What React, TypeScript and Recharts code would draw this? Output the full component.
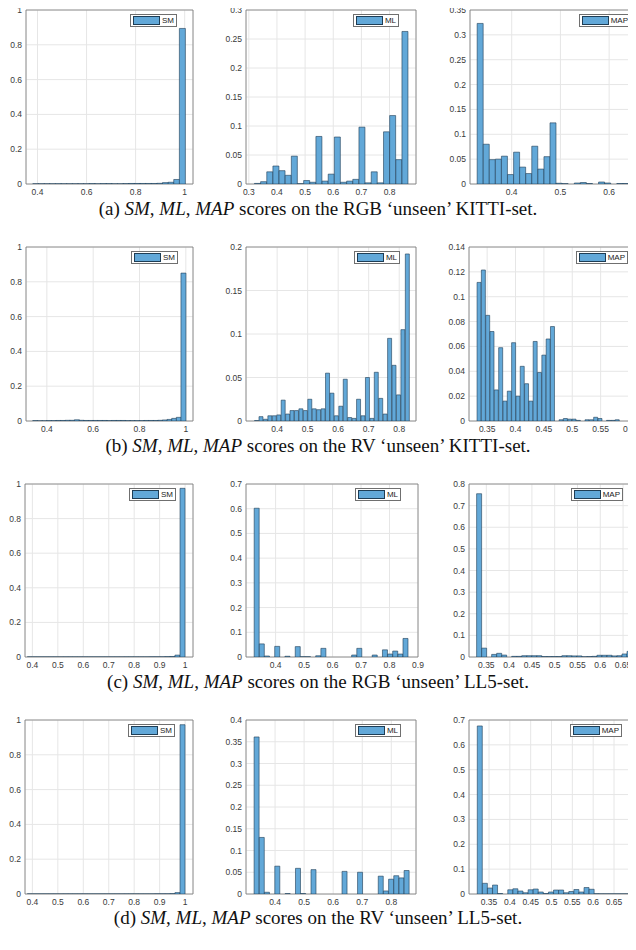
import {
  Bar,
  BarChart,
  CartesianGrid,
  Legend,
  ReferenceArea,
  XAxis,
  YAxis,
} from "recharts";

// bin centres (x) and normalised counts (y)

// (a) RGB, KITTI
const a1X = [0.392, 0.415, 0.438, 0.461, 0.484, 0.507, 0.53, 0.553, 0.576, 0.599, 0.622, 0.645, 0.668, 0.691, 0.714, 0.737, 0.76, 0.783, 0.806, 0.829, 0.852, 0.875, 0.898, 0.921, 0.944, 0.967, 0.99];
const a1Y = [0.001, 0.001, 0.001, 0.001, 0.001, 0.001, 0.001, 0.001, 0.001, 0.001, 0.002, 0.001, 0.002, 0.002, 0.001, 0.001, 0.002, 0.003, 0.003, 0.003, 0.003, 0.003, 0.004, 0.008, 0.01, 0.026, 0.894];
const a2X = [0.331, 0.3528, 0.3747, 0.3965, 0.4183, 0.4402, 0.462, 0.4838, 0.5057, 0.5275, 0.5493, 0.5712, 0.593, 0.6148, 0.6367, 0.6585, 0.6803, 0.7022, 0.724, 0.7458, 0.7677, 0.7895, 0.8113, 0.8332, 0.855];
const a2Y = [0.001, 0.004, 0.021, 0.031, 0.023, 0.015, 0.048, 0.0005, 0.006, 0.003, 0.082, 0.005, 0.017, 0.081, 0.003, 0.005, 0.008, 0.098, 0.002, 0.021, 0.002, 0.09, 0.118, 0.042, 0.263];
const a3X = [0.3353, 0.3478, 0.3602, 0.3727, 0.3851, 0.3976, 0.4101, 0.4225, 0.435, 0.4474, 0.4599, 0.4724, 0.4848, 0.4973, 0.5097, 0.5222, 0.5347, 0.5471, 0.5596, 0.572, 0.5845, 0.597, 0.6094, 0.6219, 0.6343, 0.6468];
const a3Y = [0.323, 0.08, 0.049, 0.05, 0.056, 0.019, 0.064, 0.034, 0.021, 0.076, 0.03, 0.055, 0.123, 0.0015, 0.0007, 0, 0.002, 0.003, 0.001, 0, 0.004, 0.002, 0, 0.001, 0.001, 0];

// (b) RV, KITTI
const b1X = [0.349, 0.369, 0.389, 0.409, 0.429, 0.449, 0.469, 0.489, 0.509, 0.529, 0.549, 0.569, 0.589, 0.609, 0.629, 0.649, 0.669, 0.689, 0.709, 0.729, 0.749, 0.769, 0.789, 0.809, 0.829, 0.849, 0.869, 0.889, 0.909, 0.929, 0.949, 0.969, 0.989];
const b1Y = [0.002, 0.001, 0.001, 0.002, 0.002, 0.003, 0.003, 0.004, 0.004, 0.007, 0.004, 0.003, 0.003, 0.003, 0.003, 0.003, 0.002, 0.003, 0.003, 0.003, 0.002, 0.002, 0.002, 0.002, 0.003, 0.003, 0.003, 0.004, 0.006, 0.009, 0.015, 0.021, 0.85];
const b2X = [0.3333, 0.3478, 0.3624, 0.3769, 0.3914, 0.406, 0.4205, 0.435, 0.4495, 0.4641, 0.4786, 0.4931, 0.5077, 0.5222, 0.5367, 0.5513, 0.5658, 0.5803, 0.5948, 0.6094, 0.6239, 0.6384, 0.653, 0.6675, 0.682, 0.6966, 0.7111, 0.7256, 0.7401, 0.7547, 0.7692, 0.7837, 0.7983, 0.8128, 0.8273];
const b2Y = [0.0005, 0.005, 0.002, 0.006, 0.006, 0.007, 0.024, 0.008, 0.012, 0.012, 0.014, 0.012, 0.025, 0.014, 0.013, 0.014, 0.055, 0.032, 0.006, 0.017, 0.048, 0.004, 0.003, 0.025, 0.006, 0.05, 0.003, 0.056, 0.026, 0.008, 0.095, 0.064, 0.03, 0.105, 0.192];
const b3X = [0.336, 0.3436, 0.3512, 0.3588, 0.3664, 0.3741, 0.3817, 0.3893, 0.3969, 0.4045, 0.4121, 0.4197, 0.4273, 0.4349, 0.4425, 0.4502, 0.4578, 0.4654, 0.473, 0.4806, 0.4882, 0.4958, 0.5034, 0.511, 0.5186, 0.5263, 0.5339, 0.5415, 0.5491, 0.5567, 0.5643, 0.5719, 0.5795, 0.5871];
const b3Y = [0.1115, 0.1215, 0.085, 0.072, 0.025, 0.059, 0.016, 0.024, 0.063, 0.02, 0.044, 0.03, 0.016, 0.064, 0.039, 0.053, 0.066, 0.076, 0, 0.001, 0.002, 0.0015, 0.0015, 0.0005, 0, 0.001, 0.001, 0.003, 0.002, 0, 0.0005, 0.0005, 0.001, 0];

// (c) RGB, LL5
const c1X = [0.39, 0.41, 0.43, 0.45, 0.47, 0.49, 0.51, 0.53, 0.55, 0.57, 0.59, 0.61, 0.63, 0.65, 0.67, 0.69, 0.71, 0.73, 0.75, 0.77, 0.79, 0.81, 0.83, 0.85, 0.87, 0.89, 0.91, 0.93, 0.95, 0.97, 0.99];
const c1Y = [0.0005, 0.0005, 0.0005, 0.0005, 0.0005, 0.0005, 0.0005, 0.0005, 0.0005, 0.0005, 0.0005, 0.0005, 0.0005, 0.0005, 0.0005, 0.0005, 0.0005, 0.0005, 0.0005, 0.0005, 0.0005, 0.0005, 0.0005, 0.0005, 0.001, 0.001, 0.001, 0.002, 0.003, 0.011, 0.975];
const c2X = [0.3337, 0.3517, 0.3697, 0.3878, 0.4058, 0.4238, 0.4418, 0.4598, 0.4779, 0.4959, 0.5139, 0.5319, 0.5499, 0.568, 0.586, 0.604, 0.622, 0.64, 0.6581, 0.6761, 0.6941, 0.7121, 0.7301, 0.7482, 0.7662, 0.7842, 0.8022, 0.8202, 0.8383, 0.8563];
const c2Y = [0.602, 0.053, 0.004, 0, 0.043, 0, 0.003, 0, 0.042, 0.001, 0.001, 0, 0.005, 0.035, 0, 0, 0, 0, 0, 0.008, 0.035, 0, 0, 0.008, 0, 0.029, 0.012, 0.024, 0.012, 0.075];
const c3X = [0.3342, 0.3452, 0.3562, 0.3672, 0.3782, 0.3892, 0.4002, 0.4112, 0.4222, 0.4332, 0.4442, 0.4552, 0.4662, 0.4772, 0.4882, 0.4992, 0.5102, 0.5212, 0.5322, 0.5432, 0.5542, 0.5652, 0.5762, 0.5872, 0.5982, 0.6092, 0.6202, 0.6312, 0.6422, 0.6532, 0.6642];
const c3Y = [0.755, 0.041, 0, 0.012, 0.017, 0.009, 0, 0.003, 0.003, 0.006, 0.006, 0.006, 0.006, 0.002, 0.002, 0.002, 0.002, 0.006, 0.006, 0.005, 0.005, 0.001, 0.002, 0.003, 0.008, 0.008, 0.008, 0.005, 0.006, 0.014, 0.026];

// (d) RV, LL5
const d1X = [0.39, 0.41, 0.43, 0.45, 0.47, 0.49, 0.51, 0.53, 0.55, 0.57, 0.59, 0.61, 0.63, 0.65, 0.67, 0.69, 0.71, 0.73, 0.75, 0.77, 0.79, 0.81, 0.83, 0.85, 0.87, 0.89, 0.91, 0.93, 0.95, 0.97, 0.99];
const d1Y = [0.0005, 0.0005, 0.0005, 0.0005, 0.0005, 0.0005, 0.0005, 0.0005, 0.0005, 0.0005, 0.0005, 0.0005, 0.0005, 0.0005, 0.0005, 0.0005, 0.0005, 0.0005, 0.0005, 0.0005, 0.0005, 0.0005, 0.0005, 0.0005, 0.0005, 0.001, 0.001, 0.001, 0.002, 0.008, 0.973];
const d2X = [0.3368, 0.3546, 0.3724, 0.3902, 0.408, 0.4258, 0.4436, 0.4614, 0.4792, 0.497, 0.5148, 0.5326, 0.5504, 0.5682, 0.586, 0.6038, 0.6216, 0.6394, 0.6572, 0.675, 0.6928, 0.7106, 0.7284, 0.7462, 0.764, 0.7818, 0.7996, 0.8174, 0.8352, 0.853];
const d2Y = [0.361, 0.13, 0.004, 0, 0.064, 0, 0.001, 0, 0.059, 0.001, 0, 0.056, 0, 0, 0, 0, 0, 0.052, 0, 0, 0.05, 0, 0, 0, 0.041, 0.007, 0.034, 0.042, 0.037, 0.054];
const d3X = [0.328, 0.3402, 0.3524, 0.3646, 0.3768, 0.389, 0.4012, 0.4134, 0.4256, 0.4378, 0.45, 0.4622, 0.4744, 0.4866, 0.4988, 0.511, 0.5232, 0.5354, 0.5476, 0.5598, 0.572, 0.5842, 0.5964, 0.6086, 0.6208, 0.633, 0.6452, 0.6574, 0.6696, 0.6818];
const d3Y = [0.676, 0.043, 0.024, 0.036, 0.002, 0, 0.017, 0.021, 0.012, 0.005, 0.017, 0.02, 0.008, 0.002, 0.008, 0.016, 0.016, 0.005, 0.01, 0.018, 0.008, 0.026, 0.019, 0.001, 0.0005, 0.0005, 0.0005, 0.0005, 0.0005, 0.0005];

// tick labels
const xTicks02 = [0.4, 0.6, 0.8, 1];
const xTicks01 = [0.4, 0.5, 0.6, 0.7, 0.8, 0.9, 1];
const xTicksML = [0.3, 0.4, 0.5, 0.6, 0.7, 0.8];
const xTicksML2 = [0.4, 0.5, 0.6, 0.7, 0.8];
const xTicksML3 = [0.4, 0.5, 0.6, 0.7, 0.8, 0.9];
const xTicksMAP = [0.4, 0.5, 0.6];
const xTicksMAP2 = [0.35, 0.4, 0.45, 0.5, 0.55, 0.6];
const xTicksMAP3 = [0.35, 0.4, 0.45, 0.5, 0.55, 0.6, 0.65];
const yTicks1 = [0, 0.2, 0.4, 0.6, 0.8, 1];
const yTicks03 = [0, 0.05, 0.1, 0.15, 0.2, 0.25, 0.3];
const yTicks035 = [0, 0.05, 0.1, 0.15, 0.2, 0.25, 0.3, 0.35];
const yTicks02 = [0, 0.05, 0.1, 0.15, 0.2];
const yTicks014 = [0, 0.02, 0.04, 0.06, 0.08, 0.1, 0.12, 0.14];
const yTicks07 = [0, 0.1, 0.2, 0.3, 0.4, 0.5, 0.6, 0.7];
const yTicks08 = [0, 0.1, 0.2, 0.3, 0.4, 0.5, 0.6, 0.7, 0.8];
const yTicks04 = [0, 0.05, 0.1, 0.15, 0.2, 0.25, 0.3, 0.35, 0.4];

const BAR_FILL = "#62a8d8";
const BAR_EDGE = "#1e3d55";
const FRAME = "#7a7a7a";
const TEXT = "#3a3a3a";

type Panel = {
  name: string;
  x: number[];
  y: number[];
  xDomain: [number, number];
  xTicks: number[];
  yTicks: number[];
  box: [number, number, number, number]; // plot area l, t, r, b
  legendRight: number;
};

const panels: Panel[] = [
  { name: "SM", x: a1X, y: a1Y, xDomain: [0.353, 1.034], xTicks: xTicks02, yTicks: yTicks1, box: [26, 10, 193, 184], legendRight: 16 },
  { name: "ML", x: a2X, y: a2Y, xDomain: [0.29, 0.894], xTicks: xTicksML, yTicks: yTicks03, box: [246, 10, 416, 184], legendRight: 17 },
  { name: "MAP", x: a3X, y: a3Y, xDomain: [0.3144, 0.651], xTicks: xTicksMAP, yTicks: yTicks035, box: [470, 10, 634, 184], legendRight: 3 },
  { name: "SM", x: b1X, y: b1Y, xDomain: [0.31, 1.031], xTicks: xTicks02, yTicks: yTicks1, box: [26, 247, 193, 421], legendRight: 15 },
  { name: "ML", x: b2X, y: b2Y, xDomain: [0.298, 0.855], xTicks: xTicksML2, yTicks: yTicks02, box: [246, 247, 416, 421], legendRight: 16 },
  { name: "MAP", x: b3X, y: b3Y, xDomain: [0.318, 0.6], xTicks: xTicksMAP2, yTicks: yTicks014, box: [469, 247, 629, 421], legendRight: 1 },
  { name: "SM", x: c1X, y: c1Y, xDomain: [0.371, 1.031], xTicks: xTicks01, yTicks: yTicks1, box: [25, 484, 193, 657], legendRight: 17 },
  { name: "ML", x: c2X, y: c2Y, xDomain: [0.296, 0.9], xTicks: xTicksML3, yTicks: yTicks07, box: [246, 484, 418, 657], legendRight: 17 },
  { name: "MAP", x: c3X, y: c3Y, xDomain: [0.312, 0.674], xTicks: xTicksMAP3, yTicks: yTicks08, box: [469, 484, 634, 657], legendRight: 11 },
  { name: "SM", x: d1X, y: d1Y, xDomain: [0.371, 1.031], xTicks: xTicks01, yTicks: yTicks1, box: [25, 720, 193, 894], legendRight: 18 },
  { name: "ML", x: d2X, y: d2Y, xDomain: [0.3, 0.885], xTicks: xTicksML2, yTicks: yTicks04, box: [246, 720, 416, 894], legendRight: 15 },
  { name: "MAP", x: d3X, y: d3Y, xDomain: [0.302, 0.698], xTicks: xTicksMAP3, yTicks: yTicks07, box: [469, 720, 634, 894], legendRight: 12 },
];

const fmt = (v: number) => String(Number(v.toFixed(3)));

const RIGHT_PAD = 12;
const TOP_PAD = 10;

function LegendBox({ payload }: any) {
  const item = payload && payload[0];
  return (
    <div
      style={{
        display: "flex",
        alignItems: "center",
        border: "1px solid #6f6f6f",
        background: "#fff",
        padding: "1px 2px",
        fontSize: 8,
        lineHeight: "9px",
        color: "#222",
      }}
    >
      <span
        style={{
          display: "inline-block",
          width: 25,
          height: 7,
          background: item ? item.color : BAR_FILL,
          border: `1px solid ${BAR_EDGE}`,
          marginRight: 2,
        }}
      />
      <span>{item ? item.value : ""}</span>
    </div>
  );
}

function Histogram({ p }: { p: Panel }) {
  const [l, t, r, b] = p.box;
  const data = p.x.map((x, i) => ({ x, y: p.y[i] }));
  const yMax = p.yTicks[p.yTicks.length - 1];
  const tick = { fontSize: 8.5, fill: TEXT };
  return (
    <div style={{ position: "absolute", left: l - 30, top: t - TOP_PAD }}>
      <BarChart
        width={r - l + 30 + RIGHT_PAD}
        height={b - t + TOP_PAD + 20}
        data={data}
        margin={{ top: TOP_PAD, right: RIGHT_PAD, bottom: 0, left: 0 }}
        barCategoryGap={0}
        barGap={0}
      >
        <CartesianGrid stroke="#e6e6e6" />
        <XAxis
          type="number"
          dataKey="x"
          domain={p.xDomain}
          ticks={p.xTicks}
          allowDataOverflow
          interval={0}
          height={20}
          tickSize={0}
          tickMargin={5}
          axisLine={false}
          tick={tick}
          tickFormatter={fmt}
        />
        <YAxis
          type="number"
          domain={[0, yMax]}
          ticks={p.yTicks}
          allowDataOverflow
          interval={0}
          width={30}
          tickSize={0}
          tickMargin={4}
          axisLine={false}
          tick={tick}
          tickFormatter={fmt}
        />
        <Bar
          dataKey="y"
          name={p.name}
          fill={BAR_FILL}
          stroke={BAR_EDGE}
          strokeWidth={0.6}
          isAnimationActive={false}
        />
        <ReferenceArea
          x1={p.xDomain[0]}
          x2={p.xDomain[1]}
          y1={0}
          y2={yMax}
          fill="none"
          stroke={FRAME}
          strokeWidth={0.8}
          ifOverflow="visible"
        />
        <Legend
          layout="horizontal"
          align="center"
          verticalAlign="middle"
          content={(props: any) => <LegendBox payload={props.payload} />}
          wrapperStyle={{
            top: TOP_PAD + 4,
            right: RIGHT_PAD + p.legendRight,
            left: "auto",
            width: "auto",
            height: "auto",
          }}
        />
      </BarChart>
    </div>
  );
}

const captions = [
  { top: 198, label: "(a)", rest: "scores on the RGB \u2018unseen\u2019 KITTI-set." },
  { top: 435, label: "(b)", rest: "scores on the RV \u2018unseen\u2019 KITTI-set." },
  { top: 671, label: "(c)", rest: "scores on the RGB \u2018unseen\u2019 LL5-set." },
  { top: 907, label: "(d)", rest: "scores on the RV \u2018unseen\u2019 LL5-set." },
];

export default function App() {
  return (
    <div
      style={{
        position: "relative",
        width: 636,
        height: 950,
        margin: -8,
        overflow: "hidden",
        background: "#fff",
        fontFamily: "'Liberation Sans', Arial, Helvetica, sans-serif",
      }}
    >
      {panels.map((p, i) => (
        <Histogram key={i} p={p} />
      ))}
      {captions.map((c) => (
        <div
          key={c.label}
          style={{
            position: "absolute",
            left: 0,
            top: c.top,
            width: 636,
            textAlign: "center",
            fontFamily: "'Liberation Serif', 'Times New Roman', serif",
            fontSize: 19,
            lineHeight: "22px",
            color: "#111",
          }}
        >
          {c.label} <i>SM</i>, <i>ML</i>, <i>MAP</i> {c.rest}
        </div>
      ))}
    </div>
  );
}
